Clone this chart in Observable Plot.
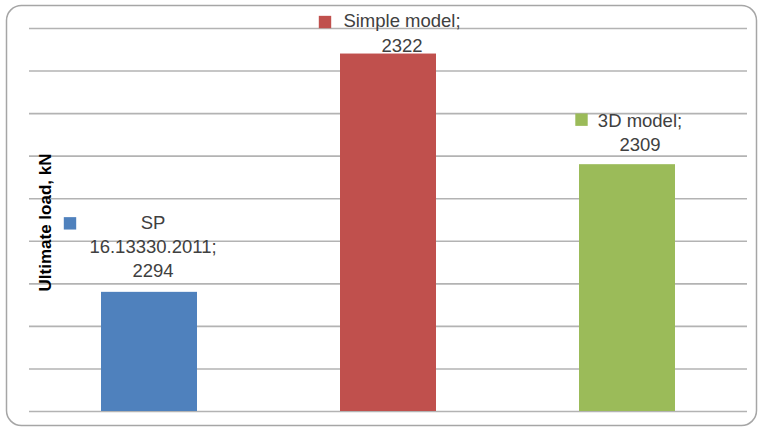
<!DOCTYPE html>
<html>
<head>
<meta charset="utf-8">
<script src="https://cdn.jsdelivr.net/npm/d3@7"></script>
<script src="https://cdn.jsdelivr.net/npm/@observablehq/plot@0.6"></script>
<style>
  html, body { margin: 0; padding: 0; background: #ffffff; }
  #chart { width: 760px; height: 428px; }
</style>
</head>
<body>
<div id="chart"></div>
<script>
// ---- data ----
const categories = ["SP 16.13330.2011", "Simple model", "3D model"];
const values = [2294, 2322, 2309];
const nameLines = [["SP", "16.13330.2011;"], ["Simple model;"], ["3D model;"]];
const colors = ["#4F81BD", "#C0504D", "#9BBB59"];
const yTicks = [2280, 2285, 2290, 2295, 2300, 2305, 2310, 2315, 2320, 2325];
const yLabel = "Ultimate load, kN";

// ---- layout (pixel offsets of labels relative to bar tops) ----
const labelLayout = [
  {tdx: 3.5, tdy: -15, kdx: -79.5, kdy: -69},
  {tdx: 13.5, tdy: -2.5, kdx: -63.5, kdy: -32},
  {tdx: 12.5, tdy: -14, kdx: -46, kdy: -45}
];

const data = categories.map((name, i) => ({
  name,
  value: values[i],
  label: [...nameLines[i], String(values[i])].join("\n")
}));

const labelMarks = data.flatMap((d, i) => {
  const L = labelLayout[i];
  return [
    Plot.text([d], {
      x: "name", y: "value", text: "label",
      textAnchor: "middle", lineAnchor: "bottom", lineHeight: 1.3,
      fontSize: 18.5, fill: "#404040",
      dx: L.tdx, dy: L.tdy
    }),
    Plot.dot([d], {
      x: "name", y: "value", symbol: "square", r: 7,
      fill: "name", stroke: "none",
      dx: L.kdx, dy: L.kdy
    })
  ];
});

const chart = Plot.plot({
  width: 760,
  height: 428,
  marginLeft: 29,
  marginRight: 13,
  marginTop: 28,
  marginBottom: 17,
  style: {fontFamily: "'Liberation Sans', Arial, sans-serif", background: "#ffffff"},
  x: {domain: categories, paddingInner: 0.6, paddingOuter: 0.3, axis: null},
  y: {domain: [yTicks[0], yTicks[yTicks.length - 1]], axis: null},
  color: {domain: categories, range: colors},
  marks: [
    Plot.ruleY(yTicks, {stroke: "#b3b3b3", strokeWidth: 1.6}),
    Plot.barY(data, {x: "name", y1: yTicks[0], y2: "value", fill: "name"}),
    ...labelMarks,
    Plot.text([yLabel], {
      frameAnchor: "left", rotate: -90, textAnchor: "middle", lineAnchor: "middle",
      fontSize: 17, fontWeight: "bold", fill: "#000000",
      dx: 16, dy: 2.5
    })
  ]
});

// outer rounded chart-area border
d3.select(chart).append("rect")
  .attr("x", 6.5).attr("y", 5.5)
  .attr("width", 750).attr("height", 420)
  .attr("rx", 15).attr("ry", 15)
  .attr("fill", "none")
  .attr("stroke", "#a6a6a6")
  .attr("stroke-width", 1.5);

document.getElementById("chart").appendChild(chart);
</script>
</body>
</html>
